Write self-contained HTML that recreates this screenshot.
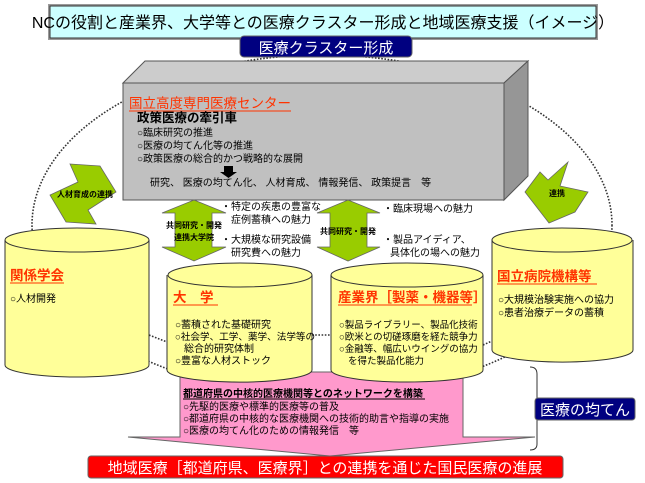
<!DOCTYPE html>
<html><head><meta charset="utf-8"><style>
body{margin:0;background:#fff;}
svg{display:block;font-family:"Liberation Sans","Noto Sans CJK JP",sans-serif;}
</style></head><body>
<svg width="645" height="483" viewBox="0 0 645 483" xmlns="http://www.w3.org/2000/svg">
<rect x="48" y="4" width="550" height="36" fill="#999"/>
<rect x="50" y="6" width="546" height="32" fill="#ccffff" stroke="#333" stroke-width="1"/>
<text x="323" y="28" font-size="16" text-anchor="middle" fill="#000">NCの役割と産業界、大学等との医療クラスター形成と地域医療支援（イメージ）</text>
<ellipse cx="322" cy="225" rx="290" ry="170" fill="none" stroke="#333" stroke-width="1.6" stroke-dasharray="1.6,1.6"/>
<rect x="240" y="36" width="172" height="21" rx="4" fill="#000080" stroke="#666"/>
<text x="326" y="53" font-size="15" text-anchor="middle" fill="#fff">医療クラスター形成</text>
<polygon points="180,372 463,372 463,437 535,437 330,456 128,437 180,437" fill="#ff99cc" stroke="#666" stroke-width="1"/>
<polygon points="123,83 145,61 528,61 504,83" fill="#cccccc" stroke="#555"/>
<polygon points="504,83 528,61 528,176 504,200" fill="#969696" stroke="#555"/>
<rect x="123" y="83" width="381" height="117" fill="#c0c0c0" stroke="#555"/>
<text x="129" y="108" font-size="13.5" fill="#ff3300">国立高度専門医療センター</text>
<line x1="129" y1="111" x2="291" y2="111" stroke="#ff3300" stroke-width="1"/>
<text x="137" y="122" font-size="12.5" font-weight="bold" fill="#000">政策医療の牽引車</text>
<g font-size="10" fill="#000">
<text x="137" y="136">○臨床研究の推進</text>
<text x="137" y="149">○医療の均てん化等の推進</text>
<text x="137" y="162">○政策医療の総合的かつ戦略的な展開</text>
<text x="150" y="186">研究、 医療の均てん化、 人材育成、 情報発信、 政策提言　等</text>
</g>
<polygon points="224,166 233,166 233,172 237,172 228.5,178 220,172 224,172" fill="#000"/>
<polygon points="70,164 100,166 116,192 88,210 96,224 66,222 50,195 78,182" fill="#99cc00" stroke="#666" stroke-width="0.8"/>
<text x="85" y="197" font-size="8" font-weight="bold" text-anchor="middle">人材育成の連携</text>
<polygon points="568,162 560,186 588,192 575,212 549,223 525,192 540,172 548,180" fill="#99cc00" stroke="#666" stroke-width="0.8"/>
<text x="557" y="196" font-size="8" font-weight="bold" text-anchor="middle">連携</text>
<polygon points="194,200 226,213 212,213 212,247 226,247 194,261 162,247 175,247 175,213 162,213" fill="#99cc00" stroke="#666" stroke-width="0.8"/>
<polygon points="348,200 380,213 367,213 367,247 380,247 348,261 317,247 330,247 330,213 317,213" fill="#99cc00" stroke="#666" stroke-width="0.8"/>
<g font-size="8" font-weight="bold" text-anchor="middle">
<text x="194" y="228">共同研究・開発</text>
<text x="194" y="240">連携大学院</text>
<text x="348" y="234">共同研究・開発</text>
</g>
<g font-size="10" fill="#000">
<text x="221" y="210">・特定の疾患の豊富な</text>
<text x="231" y="223">症例蓄積への魅力</text>
<text x="221" y="243">・大規模な研究設備</text>
<text x="231" y="256">研究費への魅力</text>
<text x="383" y="212">・臨床現場への魅力</text>
<text x="383" y="243">・製品アイディア、</text>
<text x="390" y="256">具体化の場への魅力</text>
</g>
<g stroke="#333" stroke-width="1.6" stroke-dasharray="1.6,1.6">
<line x1="149" y1="335" x2="167" y2="342"/>
<line x1="312" y1="335" x2="331" y2="335"/>
<line x1="483" y1="345" x2="492" y2="341"/>
</g>
<g fill="#ffff99" stroke="#333" stroke-width="1">
<path d="M5,240 L5,365 A72,12 0 0 0 149,365 L149,240"/>
<ellipse cx="77" cy="240" rx="72" ry="12"/>
<path d="M492,240 L492,350 A70,12 0 0 0 633,350 L633,240"/>
<ellipse cx="562" cy="240" rx="70" ry="12"/>
<path d="M167,275 L167,370 A72,12 0 0 0 312,370 L312,275"/>
<ellipse cx="240" cy="275" rx="72" ry="12"/>
<path d="M331,275 L331,370 A76,12 0 0 0 483,370 L483,275"/>
<ellipse cx="407" cy="275" rx="76" ry="12"/>
</g>
<g font-size="13.5" font-weight="bold" fill="#ff3300">
<text x="10" y="280">関係学会</text>
<text x="173" y="302">大　学</text>
<text x="338" y="302">産業界［製薬・機器等］</text>
<text x="497" y="281">国立病院機構等</text>
</g>
<g stroke="#ff3300" stroke-width="1">
<line x1="10" y1="283" x2="64" y2="283"/>
<line x1="173" y1="305" x2="218" y2="305"/>
<line x1="338" y1="305" x2="472" y2="305"/>
<line x1="497" y1="284" x2="597" y2="284"/>
</g>
<g font-size="10" fill="#000">
<text x="10" y="302">○人材開発</text>
<text x="175" y="328">○蓄積された基礎研究</text>
<text x="175" y="340" font-size="9.6">○社会学、工学、薬学、法学等の</text>
<text x="184" y="352">総合的研究体制</text>
<text x="175" y="364">○豊富な人材ストック</text>
</g>
<g font-size="9.5" fill="#000">
<text x="339" y="328">○製品ライブラリー、製品化技術</text>
<text x="339" y="340">○欧米との切磋琢磨を経た競争力</text>
<text x="339" y="352">○金融等、幅広いウイングの協力</text>
<text x="348" y="364">を得た製品化能力</text>
<text x="498" y="303" font-size="10">○大規模治験実施への協力</text>
<text x="498" y="316" font-size="10">○患者治療データの蓄積</text>
</g>
<text x="183" y="397" font-size="10" font-weight="bold">都道府県の中核的医療機関等とのネットワークを構築</text>
<line x1="183" y1="399" x2="425" y2="399" stroke="#000"/>
<g font-size="10" fill="#000">
<text x="183" y="410">○先駆的医療や標準的医療等の普及</text>
<text x="183" y="422">○都道府県の中核的な医療機関への技術的助言や指導の実施</text>
<text x="183" y="434">○医療の均てん化のための情報発信　等</text>
</g>
<path d="M530,367 Q537,367 537,374 L537,444 Q537,450 530,450" fill="none" stroke="#333" stroke-width="1"/>
<rect x="535" y="398" width="100" height="22" rx="3" fill="#000080" stroke="#666"/>
<text x="585" y="415" font-size="15" text-anchor="middle" fill="#fff">医療の均てん</text>
<rect x="88" y="456" width="475" height="22" rx="3" fill="#ff0000" stroke="#666"/>
<text x="325" y="473" font-size="15" text-anchor="middle" fill="#fff">地域医療［都道府県、医療界］との連携を通じた国民医療の進展</text>
</svg>
</body></html>
